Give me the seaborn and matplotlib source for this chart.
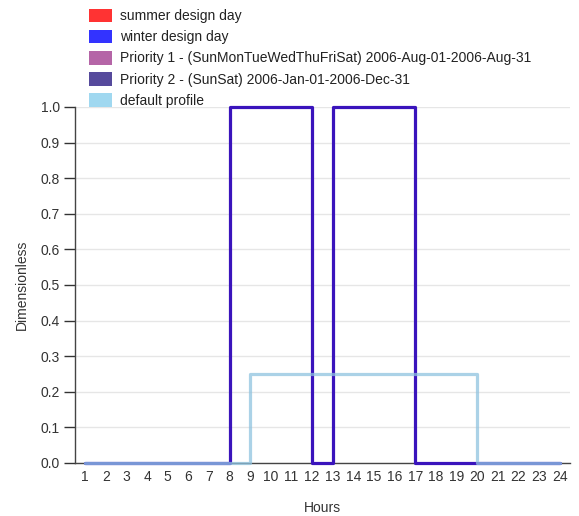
import numpy as np
import pandas as pd
import matplotlib
matplotlib.use("Agg")
import matplotlib.pyplot as plt
from matplotlib.patches import Patch
import seaborn as sns

hours = list(range(1, 25))
priority2 = [0, 0, 0, 0, 0, 0, 0, 1, 1, 1, 1, 0, 1, 1, 1, 1, 0, 0, 0, 0, 0, 0, 0, 0]
default_profile = [0, 0, 0, 0, 0, 0, 0, 0, 0.25, 0.25, 0.25, 0.25, 0.25, 0.25,
                   0.25, 0.25, 0.25, 0.25, 0.25, 0, 0, 0, 0, 0]

legend_labels = ["summer design day", "winter design day",
                 "Priority 1 - (SunMonTueWedThuFriSat) 2006-Aug-01-2006-Aug-31",
                 "Priority 2 - (SunSat) 2006-Jan-01-2006-Dec-31",
                 "default profile"]
legend_colors = ["#ff3333", "#3333ff", "#b565a7", "#564a9c", "#a0d8f0"]

sns.set_style("white")
plt.rcParams['font.family'] = ['Liberation Sans', 'DejaVu Sans']

df = pd.DataFrame({
    "Hours": hours * 2,
    "value": priority2 + default_profile,
    "series": ["Priority 2"] * 24 + ["default profile"] * 24,
})

fig = plt.figure(figsize=(5.79, 5.16), dpi=100)
ax = fig.add_axes([75 / 579, 1 - 463 / 516, 495 / 579, (463 - 107) / 516])

sns.lineplot(data=df[df.series == "Priority 2"], x="Hours", y="value", ax=ax,
             color="#3a14bc", linewidth=2.3, drawstyle="steps-post", clip_on=False,
             zorder=3)
sns.lineplot(data=df[df.series == "default profile"], x="Hours", y="value", ax=ax,
             color="#8fc3df", alpha=0.75, linewidth=2.3, drawstyle="steps-post",
             clip_on=False, zorder=4)

ax.set_xlim(0.5, 24.5)
ax.set_ylim(0, 1.0)
ax.set_xticks(hours)
ax.set_xticklabels([str(h) for h in hours])
ax.set_xticks(np.arange(0.5, 25, 1), minor=True)
ax.tick_params(axis="x", which="major", length=0, pad=5, labelsize=10, colors="#333333")
ax.tick_params(axis="x", which="minor", length=5, width=1, color="#333333", direction="out")
ax.set_yticks(np.arange(0, 1.01, 0.1))
ax.set_yticklabels([f"{v:.1f}" for v in np.arange(0, 1.01, 0.1)])
ax.tick_params(axis="y", length=8, width=1, color="#333333", labelsize=10,
               labelcolor="#333333", pad=3, left=True)
ax.grid(axis="y", color="#e6e6e6", linewidth=1)
ax.set_axisbelow(True)
for side in ["top", "right"]:
    ax.spines[side].set_visible(False)
for side in ["left", "bottom"]:
    ax.spines[side].set_color("#444444")
    ax.spines[side].set_linewidth(1)

ax.set_xlabel("Hours", fontsize=10, color="#333333", labelpad=12)
ax.set_ylabel("Dimensionless", fontsize=10, color="#333333", labelpad=8)

handles = [Patch(facecolor=c, edgecolor="none") for c in legend_colors]
fig.legend(handles, legend_labels, loc="upper left", bbox_to_anchor=(83 / 579, 1 - 3 / 516),
           frameon=False, fontsize=10, handlelength=1.7, handleheight=1.15,
           labelspacing=0.47, handletextpad=0.55, borderaxespad=0, labelcolor="#222222")

plt.savefig("out.png", dpi=100)
